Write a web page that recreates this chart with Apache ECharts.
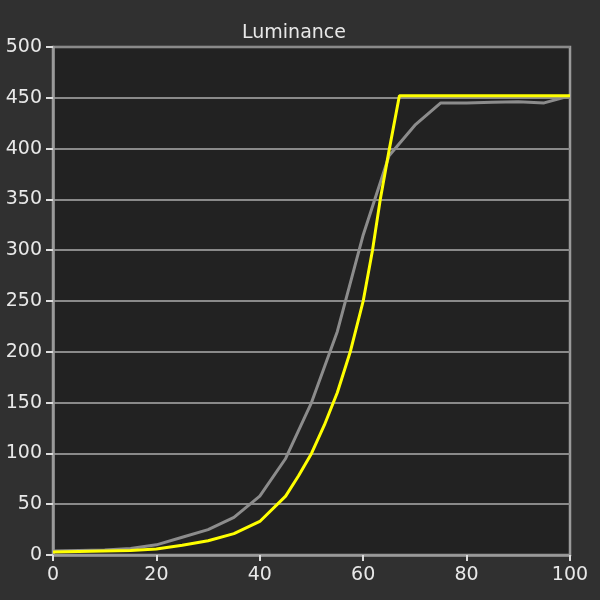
<!DOCTYPE html>
<html>
<head>
<meta charset="utf-8">
<script src="https://cdn.jsdelivr.net/npm/echarts@6/dist/echarts.min.js"></script>
<style>
  html, body { margin: 0; padding: 0; background: #303030; }
  #chart { width: 600px; height: 600px; }
</style>
</head>
<body>
<div id="chart"></div>
<script>
// measured luminance (gray), every 5% stimulus
const measuredX = [0, 5, 10, 15, 20, 25, 30, 35, 40, 45, 50, 55, 60, 65, 70, 75, 80, 85, 90, 95, 100]
const measuredY = [4, 4.5, 5, 6.5, 10, 17.5, 25, 37, 58, 95, 150, 220, 315, 393, 423, 445, 445, 445.5, 446, 445, 452]
// target curve (yellow), clipped at peak
const targetX = [0, 5, 10, 15, 20, 25, 30, 35, 40, 45, 47.5, 50, 52.5, 55, 57.5, 60, 61.8, 63.3, 65, 67, 70, 75, 80, 85, 90, 95, 100]
const targetY = [3, 3.5, 4, 4.5, 6, 9.5, 14, 21, 33, 58, 78, 100, 128, 160, 200, 250, 300, 350, 398, 452, 452, 452, 452, 452, 452, 452, 452]

const chart = echarts.init(document.getElementById('chart'))

const toPairs = (xs, ys) => xs.map((x, i) => [x, ys[i]])
const labelFont = 'DejaVu Sans'

let option = {
  backgroundColor: '#303030',
  animation: false,
  title: {
    text: 'Luminance',
    left: 289,
    textAlign: 'center',
    top: 19,
    textStyle: {
      color: '#e8e8e8',
      fontFamily: labelFont,
      fontSize: 19,
      fontWeight: 'normal'
    }
  },
  grid: {
    left: 53,
    right: 30,
    top: 47,
    bottom: 45,
    show: true,
    backgroundColor: '#222222',
    borderColor: '#9a9a9a',
    borderWidth: 2.5
  },
  xAxis: {
    type: 'value',
    min: 0,
    max: 100,
    interval: 20,
    axisLine: { show: true, lineStyle: { color: '#9a9a9a', width: 2.5 } },
    axisTick: { show: true, length: 6, lineStyle: { color: '#dddddd', width: 2 } },
    axisLabel: { color: '#e8e8e8', fontFamily: labelFont, fontSize: 19, margin: 11 },
    splitLine: { show: false }
  },
  yAxis: {
    type: 'value',
    min: 0,
    max: 500,
    interval: 50,
    axisLine: { show: true, lineStyle: { color: '#9a9a9a', width: 2.5 } },
    axisTick: { show: true, length: 7, lineStyle: { color: '#dddddd', width: 2 } },
    axisLabel: { color: '#e8e8e8', fontFamily: labelFont, fontSize: 19, margin: 11 },
    splitLine: { show: true, lineStyle: { color: '#8a8a8a', width: 2 } }
  },
  series: [
    {
      name: 'Measured',
      type: 'line',
      showSymbol: false,
      data: toPairs(measuredX, measuredY),
      lineStyle: { color: '#8c8c8c', width: 3 },
      z: 2
    },
    {
      name: 'Target',
      type: 'line',
      showSymbol: false,
      data: toPairs(targetX, targetY),
      lineStyle: { color: '#ffff00', width: 3 },
      z: 3
    }
  ]
}

chart.setOption(option)
</script>
</body>
</html>
